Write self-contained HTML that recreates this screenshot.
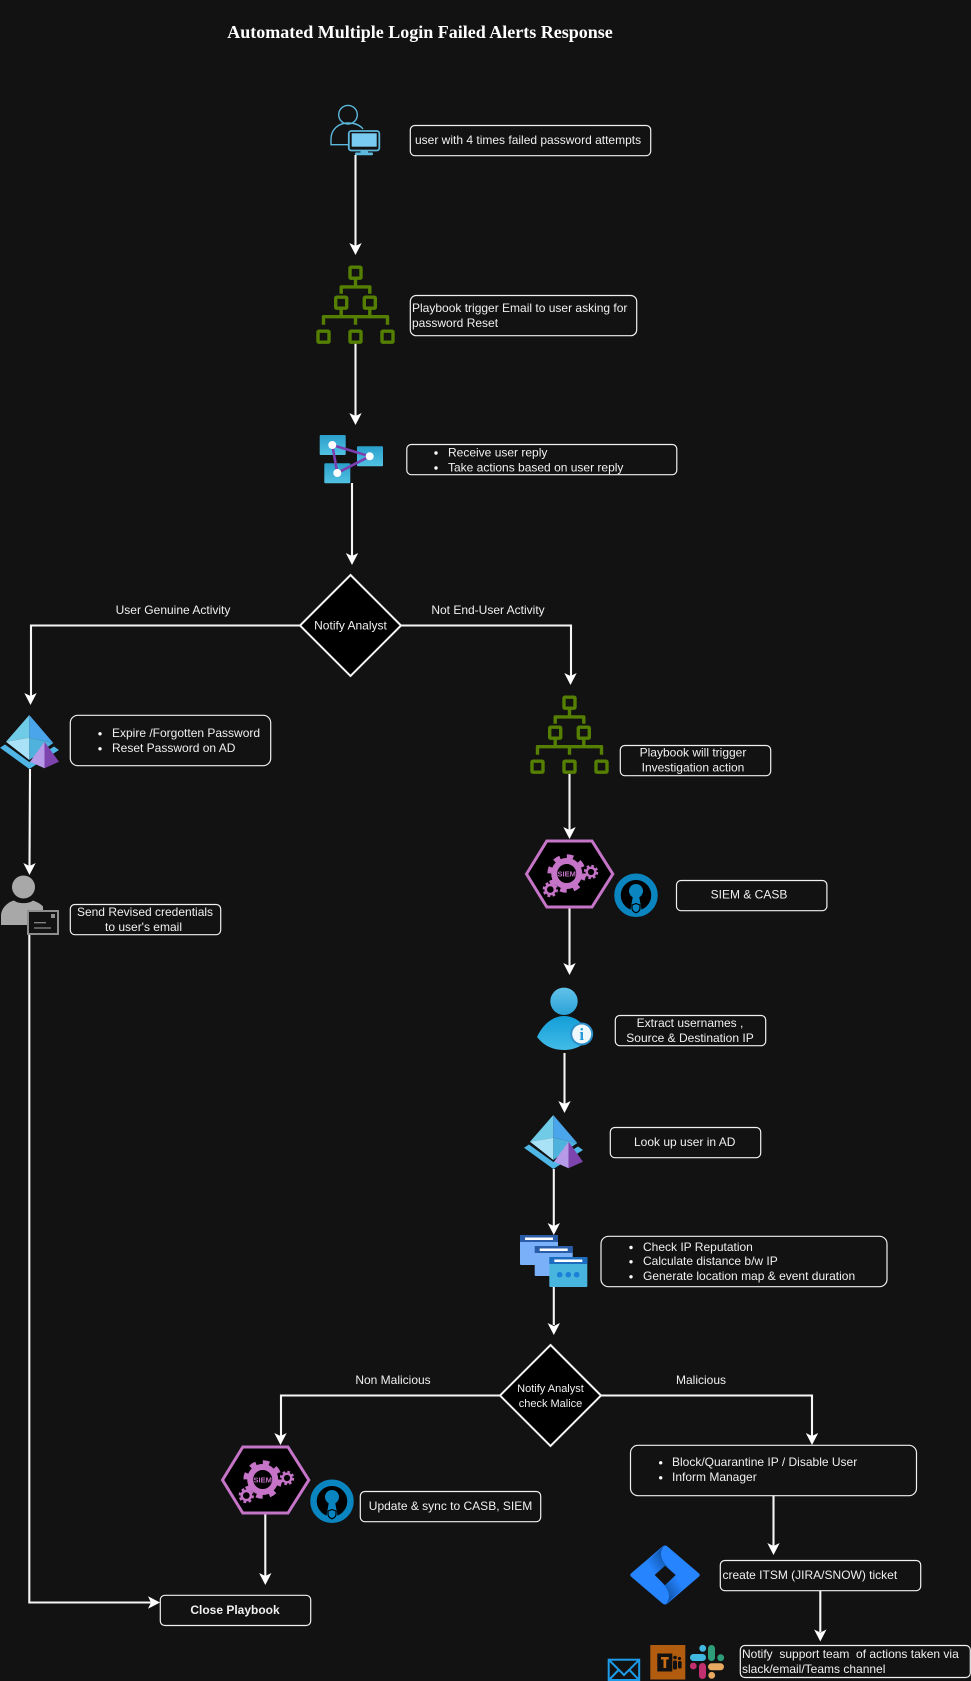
<!DOCTYPE html>
<html>
<head>
<meta charset="utf-8">
<style>
html,body{margin:0;padding:0;background:#121212;}
svg{display:block;}
text{font-family:"Liberation Sans",Arial,sans-serif;font-size:12px;fill:#f0f0f0;}
.m{text-anchor:middle;}
.box{fill:#121212;stroke:#f0f0f0;stroke-width:1.2;}
.ln{fill:none;stroke:#f5f5f5;stroke-width:2.1;}
.h{fill:#fff;}
</style>
</head>
<body>
<svg xmlns="http://www.w3.org/2000/svg" width="971" height="1681" viewBox="0 0 971 1681">
<defs>
<polygon id="ah" points="0,0 -6.2,-12 0,-9 6.2,-12" fill="#fff"/>
<linearGradient id="gb" x1="0" y1="0" x2="0" y2="1"><stop offset="0" stop-color="#2a9fcb"/><stop offset="1" stop-color="#52c2e2"/></linearGradient>
<linearGradient id="gu" x1="0" y1="0" x2="0" y2="1"><stop offset="0" stop-color="#62c2ea"/><stop offset="1" stop-color="#2aa3d8"/></linearGradient>
<linearGradient id="gb2" x1="0" y1="0" x2="0" y2="1"><stop offset="0" stop-color="#139ed8"/><stop offset="1" stop-color="#42bce6"/></linearGradient>
<linearGradient id="j1" gradientUnits="userSpaceOnUse" x1="649" y1="1566" x2="668" y2="1553"><stop offset="0" stop-color="#2684ff"/><stop offset="1" stop-color="#0a4a96"/></linearGradient>
<linearGradient id="j2" gradientUnits="userSpaceOnUse" x1="681" y1="1584" x2="662" y2="1597"><stop offset="0" stop-color="#2684ff"/><stop offset="1" stop-color="#0a4a96"/></linearGradient>

<g id="tree" fill="none" stroke="#557f00" stroke-width="3.4" stroke-linejoin="round">
<rect x="-5.5" y="-5.5" width="11" height="11" rx="1"/>
<path d="M0,6V14M-14.3,21V14.2H14.3V21"/>
<rect x="-19.8" y="24.5" width="11" height="11" rx="1"/>
<rect x="8.8" y="24.5" width="11" height="11" rx="1"/>
<path d="M-14.3,36V44M14.3,36V44M-32,52V44H32V52M0,44V52"/>
<rect x="-37.5" y="58.5" width="11" height="11" rx="1"/>
<rect x="-5.5" y="58.5" width="11" height="11" rx="1"/>
<rect x="26.5" y="58.5" width="11" height="11" rx="1"/>
</g>

<g id="ad">
<polygon points="0,747.7 29.3,769 59,750 54,746.5 29.3,762 5,744.5" fill="#4fb6e6"/>
<polygon points="29.3,715 6,741.7 29.3,737.7" fill="#70cbe6"/>
<polygon points="29.3,715 53.3,743 29.3,737.7" fill="#4aa5ea"/>
<polygon points="6,741.7 29.3,737.7 29.3,760" fill="#a9e1f6"/>
<polygon points="53.3,743 29.3,737.7 29.3,760" fill="#4fb2dc"/>
<polygon points="44.5,741.7 30,761.7 44.5,768.3" fill="#b79ae8"/>
<polygon points="44.5,741.7 59,761.7 44.5,768.3" fill="#7d44ae"/>
</g>

<g id="siem">
<polygon points="526.5,874 546.8,841 592,841 612.8,874 592,907 546.8,907" fill="#000" stroke="#c574c8" stroke-width="3"/>
<g fill="none" stroke="#c574c8">
<circle cx="566.7" cy="873.5" r="12.5" stroke-width="6"/>
<circle cx="566.7" cy="873.5" r="17" stroke-width="4.6" stroke-dasharray="6.5 6.85"/>
<circle cx="591" cy="872" r="4.3" stroke-width="2.4"/>
<circle cx="591" cy="872" r="6.2" stroke-width="2" stroke-dasharray="2.6 2.3"/>
<circle cx="550.3" cy="889.5" r="4.6" stroke-width="2.6"/>
<circle cx="550.3" cy="889.5" r="6.6" stroke-width="2.2" stroke-dasharray="2.8 2.4"/>
</g>
<text x="566.7" y="876.5" class="m" style="font-size:7.5px;font-weight:bold;fill:#c574c8">SIEM</text>
</g>

<g id="casb">
<circle cx="636" cy="895.3" r="18.5" fill="#000" stroke="#0a85c0" stroke-width="6.5"/>
<circle cx="636" cy="891" r="7" fill="#0a85c0"/>
<polygon points="633.5,893 638.5,893 642,912 630,912" fill="#0a85c0"/>
<path d="M636,903.5 l4,1.5 v3.2 q0,3 -4,4.6 q-4,-1.6 -4,-4.6 v-3.2z" fill="#0a85c0" stroke="#000" stroke-width="1.2"/>
</g>
</defs>

<rect width="971" height="1681" fill="#121212"/>

<text x="420" y="38" class="m" style="font-family:'Liberation Serif',serif;font-size:18px;font-weight:bold;fill:#fff">Automated Multiple Login Failed Alerts Response</text>

<!-- user icon -->
<g fill="none" stroke="#5cb8dc" stroke-width="1.4">
<circle cx="348" cy="114.7" r="9.3"/>
<path d="M349,144.7H331V139C331,130 338,123 348,123C355,123 360,125 363,129"/>
</g>
<rect x="348.8" y="131" width="30.5" height="19.5" rx="2.5" fill="#121212" stroke="#5cb8dc" stroke-width="1.8"/>
<rect x="351.7" y="133.3" width="25" height="13.4" fill="#7acbf2"/>
<rect x="360.5" y="151" width="7.5" height="2.5" fill="#5cb8dc"/>
<rect x="355" y="152.5" width="18" height="2.7" rx="1" fill="#5cb8dc"/>

<!-- connectors -->
<path class="ln" d="M355.5,155V246"/>
<use href="#ah" x="355.5" y="255"/>
<path class="ln" d="M355.5,343V416"/>
<use href="#ah" x="355.5" y="425"/>
<path class="ln" d="M352,483V556"/>
<use href="#ah" x="352" y="565"/>
<path class="ln" d="M300,625.5H31V696"/>
<use href="#ah" x="30.5" y="705"/>
<path class="ln" d="M401,625.5H571V676"/>
<use href="#ah" x="570.5" y="685"/>
<path class="ln" d="M30,769L29.5,866"/>
<use href="#ah" x="29.5" y="875"/>
<path class="ln" d="M569.5,774V830"/>
<use href="#ah" x="569.5" y="839"/>
<path class="ln" d="M569.5,908V966"/>
<use href="#ah" x="569.5" y="975"/>
<path class="ln" d="M564.5,1053V1104"/>
<use href="#ah" x="564.5" y="1113"/>
<path class="ln" d="M553.8,1169V1226"/>
<use href="#ah" x="553.8" y="1235"/>
<path class="ln" d="M553.8,1287V1325"/>
<use href="#ah" x="553.8" y="1335"/>
<path class="ln" d="M500,1395.5H281V1436"/>
<use href="#ah" x="280.5" y="1445"/>
<path class="ln" d="M601,1395.5H812V1436"/>
<use href="#ah" x="812" y="1445"/>
<path class="ln" d="M265.3,1514V1576"/>
<use href="#ah" x="265.3" y="1585"/>
<path class="ln" d="M29.3,934V1602.5H151"/>
<use href="#ah" transform="translate(160,1602.5) rotate(-90)"/>
<path class="ln" d="M773.5,1495V1546"/>
<use href="#ah" x="773.5" y="1555"/>
<path class="ln" d="M820.3,1591V1632"/>
<use href="#ah" x="820.3" y="1641.5"/>

<!-- boxes -->
<rect class="box" x="410.3" y="125.5" width="240.4" height="30.2" rx="4.5"/>
<text x="415" y="144">user with 4 times failed password attempts</text>

<use href="#tree" x="355.5" y="272.7"/>
<rect class="box" x="410.3" y="295.5" width="226.4" height="40.2" rx="6"/>
<text x="412" y="312">Playbook trigger Email to user asking for</text>
<text x="412" y="327">password Reset</text>

<!-- logic app icon -->
<rect x="319.7" y="435" width="26" height="20" rx="1" fill="url(#gb)"/>
<rect x="357" y="446.3" width="26" height="20" rx="1" fill="url(#gb)"/>
<rect x="324.3" y="463.3" width="26" height="20" rx="1" fill="url(#gb)"/>
<polygon points="332.3,445 369.7,456.3 337.3,473" fill="none" stroke="#7b3fb0" stroke-width="2.6"/>
<circle cx="332.3" cy="445" r="4" fill="#fff"/>
<circle cx="369.7" cy="456.3" r="4" fill="#fff"/>
<circle cx="337.3" cy="473" r="4" fill="#fff"/>

<rect class="box" x="406.8" y="444.5" width="270" height="30.2" rx="4.5"/>
<circle cx="436" cy="453" r="1.7" class="h"/>
<circle cx="436" cy="468" r="1.7" class="h"/>
<text x="448" y="456.5">Receive user reply</text>
<text x="448" y="471.5">Take actions based on user reply</text>

<!-- diamond 1 -->
<polygon points="350.5,575 401,625.5 350.5,676 300,625.5" fill="#000" stroke="#f5f5f5" stroke-width="2"/>
<text x="350.5" y="629.5" class="m">Notify Analyst</text>
<text x="173" y="614" class="m">User Genuine Activity</text>
<text x="488" y="614" class="m">Not End-User Activity</text>

<!-- AD 1 -->
<use href="#ad"/>
<rect class="box" x="70.3" y="715.3" width="200.4" height="50.4" rx="7.5"/>
<circle cx="100" cy="733.8" r="1.7" class="h"/>
<circle cx="100" cy="748.8" r="1.7" class="h"/>
<text x="112" y="737">Expire /Forgotten Password</text>
<text x="112" y="752">Reset Password on AD</text>

<!-- gray user -->
<circle cx="23.5" cy="887" r="11.5" fill="#a8a8a8"/>
<path d="M1,925V916C1,908 8,902 14,900.5C18,904 29,904 33,900.5C37,902 41,904 43,906.5V925Z" fill="#a8a8a8"/>
<rect x="28" y="911" width="30" height="23" fill="#121212" stroke="#8e8e8e" stroke-width="2"/>
<rect x="51" y="914" width="4" height="4" fill="#8e8e8e"/>
<path d="M34,922.7H46M34,928H51" stroke="#a8a8a8" stroke-width="1" fill="none"/>
<rect class="box" x="70.3" y="904.5" width="150.4" height="30.2" rx="4.5"/>
<text x="145" y="916" class="m">Send Revised credentials</text>
<text x="143.5" y="931" class="m">to user's email</text>

<!-- right column -->
<use href="#tree" x="569.5" y="702.7"/>
<rect class="box" x="620.3" y="745.5" width="150.4" height="30.2" rx="4.5"/>
<text x="693" y="756.5" class="m">Playbook will trigger</text>
<text x="693" y="771.5" class="m">Investigation action</text>

<use href="#siem"/>
<use href="#casb"/>
<rect class="box" x="676.5" y="880.5" width="150.4" height="30.2" rx="4.5"/>
<text x="749" y="898.7" class="m">SIEM &amp; CASB</text>

<!-- user info -->
<circle cx="564" cy="1001.3" r="13.7" fill="url(#gu)"/>
<path d="M537,1037C543,1024 553,1016 564,1016C577,1016 586,1026 590,1037C584,1046 574,1050 564,1050C553,1050 544,1046 537,1037Z" fill="url(#gb2)"/>
<circle cx="581.7" cy="1034" r="11.5" fill="#2c8fc8"/>
<circle cx="581.7" cy="1034" r="9.5" fill="#eef8fd"/>
<text x="581.7" y="1040" class="m" style="font-family:'Liberation Serif',serif;font-size:17px;font-weight:bold;fill:#2a9ad4">i</text>
<rect class="box" x="615.3" y="1015.5" width="150.4" height="30.2" rx="4.5"/>
<text x="690" y="1027" class="m">Extract usernames ,</text>
<text x="690" y="1042" class="m">Source &amp; Destination IP</text>

<use href="#ad" transform="translate(524,400)"/>
<rect class="box" x="610.3" y="1127.5" width="150.4" height="30.2" rx="4.5"/>
<text x="684.7" y="1146" class="m">Look up user in AD</text>

<!-- windows -->
<rect x="520" y="1235" width="38" height="30" rx="1" fill="#7ab0f8"/>
<rect x="520" y="1235" width="38" height="7" fill="#2a5ca8"/>
<rect x="525" y="1237.5" width="28" height="2.5" fill="#fff"/>
<rect x="534.7" y="1246" width="38" height="30" rx="1" fill="#7ab0f8"/>
<rect x="534.7" y="1246" width="38" height="7" fill="#2a5ca8"/>
<rect x="539.7" y="1248.5" width="28" height="2.5" fill="#fff"/>
<rect x="549.3" y="1257" width="38" height="30" rx="1" fill="#47b5de"/>
<rect x="549.3" y="1257" width="38" height="7" fill="#1c6cc0"/>
<rect x="554.3" y="1259.5" width="28" height="2.5" fill="#fff"/>
<circle cx="559.7" cy="1274.7" r="2.8" fill="#1c7fd8"/>
<circle cx="568.3" cy="1274.7" r="2.8" fill="#1c7fd8"/>
<circle cx="576.7" cy="1274.7" r="2.8" fill="#1c7fd8"/>

<rect class="box" x="601" y="1236.3" width="286" height="50.4" rx="7.5"/>
<circle cx="631" cy="1247.5" r="1.7" class="h"/>
<circle cx="631" cy="1261.8" r="1.7" class="h"/>
<circle cx="631" cy="1276.8" r="1.7" class="h"/>
<text x="643" y="1251">Check IP Reputation</text>
<text x="643" y="1265">Calculate distance b/w IP</text>
<text x="643" y="1280">Generate location map &amp; event duration</text>

<!-- diamond 2 -->
<polygon points="550.5,1345 601,1395.5 550.5,1446 500,1395.5" fill="#000" stroke="#f5f5f5" stroke-width="2"/>
<text x="550.5" y="1392" class="m" style="font-size:11px">Notify Analyst</text>
<text x="550.5" y="1407" class="m" style="font-size:11px">check Malice</text>
<text x="393" y="1384" class="m">Non Malicious</text>
<text x="701" y="1384" class="m">Malicious</text>

<!-- siem 2 -->
<use href="#siem" transform="translate(-304,606)"/>
<use href="#casb" transform="translate(-304,606)"/>
<rect class="box" x="360.3" y="1491.5" width="180.4" height="30.2" rx="4.5"/>
<text x="450.5" y="1510" class="m">Update &amp; sync to CASB, SIEM</text>

<rect class="box" x="160.3" y="1595.3" width="150.4" height="30.2" rx="4.5"/>
<text x="235" y="1614" class="m" style="font-weight:bold">Close Playbook</text>

<rect class="box" x="630.5" y="1445.3" width="286" height="50.4" rx="7.5"/>
<circle cx="660.7" cy="1462.8" r="1.7" class="h"/>
<circle cx="660.7" cy="1477.8" r="1.7" class="h"/>
<text x="672" y="1466">Block/Quarantine IP / Disable User</text>
<text x="672" y="1481">Inform Manager</text>

<!-- jira -->
<path d="M662.5,1546.5Q665,1544.5 667.5,1546.5L698.5,1573Q701,1575 698.5,1577L667.5,1603.5Q665,1605.5 662.5,1603.5L631.5,1577Q629,1575 631.5,1573Z" fill="#2684ff"/>
<path d="M664.5,1545.5C658,1553 660,1561 675.5,1575L665,1566L655,1575L646,1562Z" fill="url(#j1)"/>
<path d="M665.5,1604.5C672,1597 670,1589 654.5,1575L665,1585L675.5,1575L684,1588Z" fill="url(#j2)"/>
<polygon points="665,1565.7 675.7,1575 665,1585.2 654.7,1575" fill="#121212"/>

<rect class="box" x="720.3" y="1560.5" width="200.4" height="30.2" rx="4.5"/>
<text x="722.5" y="1579">create ITSM (JIRA/SNOW) ticket</text>

<!-- mail -->
<rect x="608.7" y="1659.7" width="30.5" height="20.3" fill="none" stroke="#1e9be8" stroke-width="2"/>
<path d="M609,1660L624,1675L639,1660M609,1680L618.5,1670M639,1680L629.5,1670" fill="none" stroke="#1e9be8" stroke-width="2"/>

<!-- teams -->
<rect x="650.3" y="1645" width="35" height="34.5" fill="#b25c10"/>
<rect x="657.3" y="1653.5" width="15" height="18" fill="#111"/>
<path d="M661,1657H668.7V1659.5H666.2V1668H663.5V1659.5H661Z" fill="#c87018"/>
<circle cx="675" cy="1657.5" r="1.8" fill="#111"/>
<circle cx="679.5" cy="1658.5" r="1.6" fill="#111"/>
<rect x="673" y="1660.5" width="4" height="9" rx="1.5" fill="#111"/>
<rect x="678" y="1661" width="3.6" height="7.5" rx="1.5" fill="#111"/>

<!-- slack -->
<rect x="690" y="1654" width="16" height="7" rx="3.5" fill="#40b8e0"/>
<circle cx="702.7" cy="1648.3" r="3.4" fill="#40b8e0"/>
<rect x="708" y="1645" width="7" height="16" rx="3.5" fill="#2e9e78"/>
<circle cx="720.7" cy="1657.7" r="3.4" fill="#2e9e78"/>
<rect x="699" y="1663" width="7" height="16" rx="3.5" fill="#c0306e"/>
<circle cx="693.3" cy="1666" r="3.4" fill="#c0306e"/>
<rect x="708" y="1663.3" width="16" height="7" rx="3.5" fill="#e8a860"/>
<circle cx="711.7" cy="1675.3" r="3.4" fill="#e8a860"/>

<rect class="box" x="740.3" y="1645.5" width="230" height="32" rx="4.5"/>
<text x="742" y="1658">Notify&#160; support team&#160; of actions taken via</text>
<text x="742" y="1673">slack/email/Teams channel</text>
</svg>
</body>
</html>
